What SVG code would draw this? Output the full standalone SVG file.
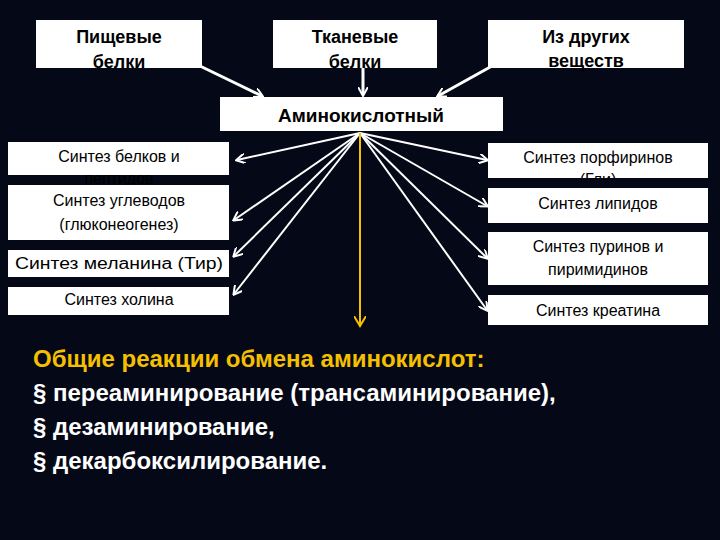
<svg xmlns="http://www.w3.org/2000/svg" width="720" height="540" viewBox="0 0 720 540">
<style>
.b{fill:#fff}
.t{font-family:"Liberation Sans",Arial,sans-serif;font-size:16px;fill:#000;text-anchor:middle}
.tb{font-family:"Liberation Sans",Arial,sans-serif;font-size:18px;font-weight:bold;fill:#000;text-anchor:middle}
.c{stroke:#fff;stroke-width:2;fill:none;marker-end:url(#a)}
.w{font-family:"Liberation Sans",Arial,sans-serif;font-size:24px;font-weight:bold;fill:#fff}
</style>
<defs>
<marker id="a" markerWidth="10" markerHeight="10" refX="8" refY="5" orient="auto" markerUnits="userSpaceOnUse"><path d="M0,0 L9,5 L0,10" fill="none" stroke="#fff" stroke-width="2"/></marker>
<marker id="y" markerWidth="12" markerHeight="12" refX="9" refY="6" orient="auto" markerUnits="userSpaceOnUse"><path d="M0,0 L10,6 L0,12" fill="none" stroke="#f5c000" stroke-width="2"/></marker>
</defs>
<rect width="720" height="540" fill="#050816"/>
<g id="connectors">
<line class="c" x1="200" y1="66" x2="262" y2="96" style="stroke-width:3"/>
<line class="c" x1="363" y1="68" x2="363" y2="95" style="stroke-width:3"/>
<line class="c" x1="492" y1="66" x2="438" y2="96" style="stroke-width:3"/>
<line class="c" x1="360" y1="133" x2="237" y2="160"/>
<line class="c" x1="360" y1="133" x2="234" y2="220"/>
<line class="c" x1="360" y1="133" x2="234" y2="256"/>
<line class="c" x1="360" y1="133" x2="234" y2="294"/>
<line class="c" x1="360" y1="133" x2="487" y2="160"/>
<line class="c" x1="360" y1="133" x2="487" y2="206"/>
<line class="c" x1="360" y1="133" x2="487" y2="258"/>
<line class="c" x1="360" y1="133" x2="487" y2="310"/>
<line x1="360" y1="133" x2="360" y2="325" stroke="#f5c000" stroke-width="2" marker-end="url(#y)"/>
</g>
<g id="n1"><rect class="b" x="36" y="20" width="166" height="48"/><text class="tb" x="119" y="43">Пищевые</text><text class="tb" x="119" y="68">белки</text></g>
<g id="n2"><rect class="b" x="273" y="20" width="164" height="48"/><text class="tb" x="355" y="43">Тканевые</text><text class="tb" x="355" y="68">белки</text></g>
<g id="n3"><rect class="b" x="488" y="20" width="196" height="48"/><text class="tb" x="586" y="43">Из других</text><text class="tb" x="586" y="67">веществ</text></g>
<g id="n4"><rect class="b" x="220" y="97" width="283" height="34"/><text class="tb" x="361" y="122" style="font-size:19px">Аминокислотный</text></g>
<g id="l1"><rect class="b" x="8" y="142" width="221" height="33"/><text class="t" x="119" y="162">Синтез белков и</text><text class="t" x="119" y="184">пептидов</text></g>
<g id="l2"><rect class="b" x="8" y="185" width="221" height="55"/><text class="t" x="119" y="206">Синтез углеводов</text><text class="t" x="119" y="230">(глюконеогенез)</text></g>
<g id="l3"><rect class="b" x="8" y="250" width="221" height="27"/><text class="t" x="119" y="269" textLength="208" lengthAdjust="spacingAndGlyphs">Синтез меланина (Тир)</text></g>
<g id="l4"><rect class="b" x="8" y="287" width="221" height="28"/><text class="t" x="119" y="305">Синтез холина</text></g>
<g id="r1"><rect class="b" x="488" y="143" width="220" height="35"/><text class="t" x="598" y="163">Синтез порфиринов</text><text class="t" x="598" y="185">(Гли)</text></g>
<g id="r2"><rect class="b" x="488" y="178" width="220" height="45"/><rect x="488" y="178" width="220" height="10" fill="#050816"/><text class="t" x="598" y="209">Синтез липидов</text></g>
<g id="r3"><rect class="b" x="488" y="232" width="220" height="53"/><text class="t" x="598" y="252">Синтез пуринов и</text><text class="t" x="598" y="275">пиримидинов</text></g>
<g id="r4"><rect class="b" x="488" y="295" width="220" height="30"/><text class="t" x="598" y="316">Синтез креатина</text></g>
<g id="text">
<text class="w" x="33" y="367" style="fill:#f5c000">Общие реакции обмена аминокислот:</text>
<text class="w" x="33" y="401">§ переаминирование (трансаминирование),</text>
<text class="w" x="33" y="435">§ дезаминирование,</text>
<text class="w" x="33" y="469">§ декарбоксилирование.</text>
</g>
</svg>
